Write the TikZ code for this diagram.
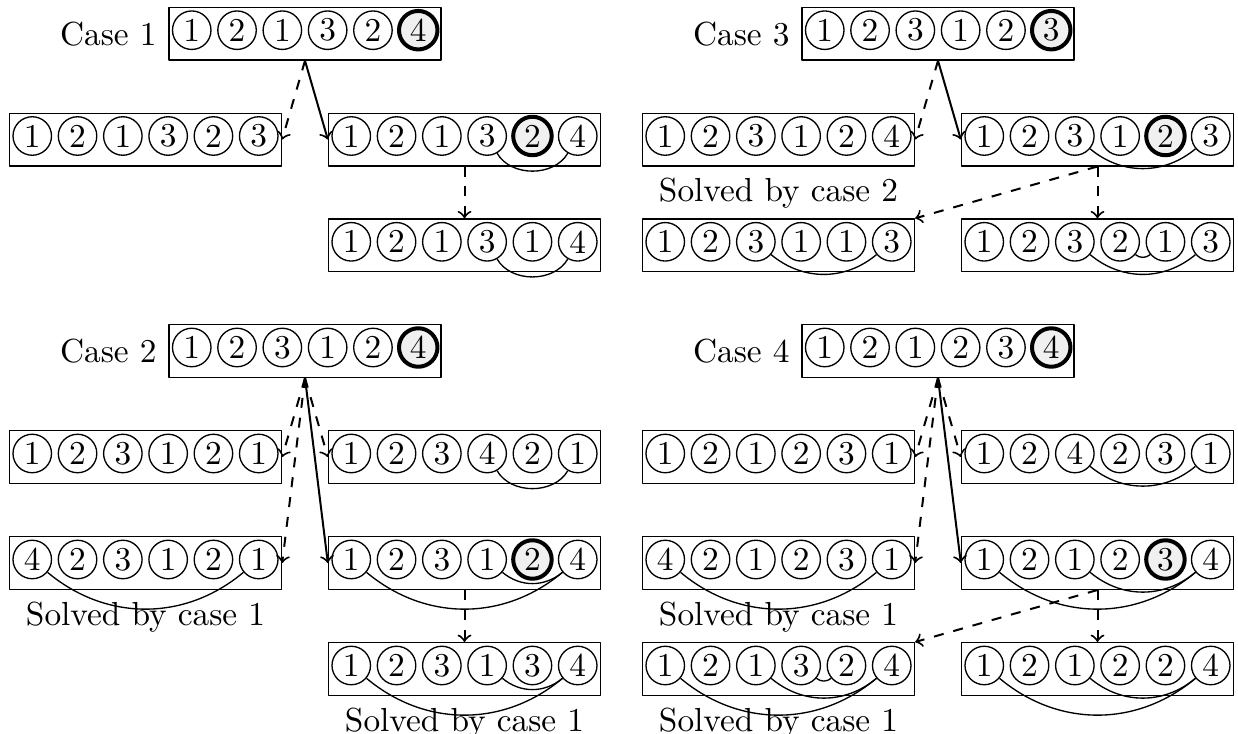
\documentclass[tikz,border=0pt]{standalone}
\tikzset{
  seqbox/.style={draw, minimum width=81.6pt, minimum height=15.8pt, inner sep=0pt},
  digit/.style={draw, circle, fill=white, minimum size=11.55pt, inner sep=0pt},
  hi/.style={very thick, fill=gray!12},
  link/.style={bend right=40},
  longlink/.style={bend right=60},
  tryarrow/.style={->, semithick, dashed},
  goarrow/.style={->, semithick},
}
% name, position, digits, highlighted circle (0 = none)
\newcommand{\permrow}[4]{%
  \begin{scope}[shift={(#2)}]
    \node[seqbox] (#1) at (0,0) {};
    \foreach \v [count=\i] in {#3} {
      \ifnum\i=#4
        \node[digit,hi] (#1-\i) at ({(\i-3.5)*45.3},3.5) {\v};
      \else
        \node[digit] (#1-\i) at ({(\i-3.5)*45.3},3.5) {\v};
      \fi
    }
  \end{scope}
}
\begin{document}
\begin{tikzpicture}[x=0.3pt, y=0.3pt, line join=round]
  \useasboundingbox (0,0) rectangle (1238,-734);
  \def\xl{145.5} \def\xm{305} \def\xr{464.5} \def\off{633}
  % Case 1
  \permrow{c1}{\xm,-33.7}{1,2,1,3,2,4}{6}
  \node[left] (lab1) at (c1.west) {Case 1};
  \permrow{c1l}{\xl,-139.5}{1,2,1,3,2,3}{0}
  \permrow{c1r}{\xr,-139.5}{1,2,1,3,2,4}{5}
  \permrow{c1rr}{\xr,-245.3}{1,2,1,3,1,4}{0}
  \draw[tryarrow] (c1.south) -- (c1l.east);
  \draw[goarrow] (c1.south) -- (c1r.west);
  \draw[tryarrow] (c1r.south) -- (c1rr.north);
  \draw (c1r-4) to[longlink] (c1r-6);
  \draw (c1rr-4) to[longlink] (c1rr-6);
  % Case 3
  \permrow{c3}{\xm+\off,-33.7}{1,2,3,1,2,3}{6}
  \node[left] (lab3) at (c3.west) {Case 3};
  \permrow{c3l}{\xl+\off,-139.5}{1,2,3,1,2,4}{0}
  \permrow{c3r}{\xr+\off,-139.5}{1,2,3,1,2,3}{5}
  \permrow{c3rl}{\xl+\off,-245.3}{1,2,3,1,1,3}{0}
  \permrow{c3rr}{\xr+\off,-245.3}{1,2,3,2,1,3}{0}
  \node[below] (sol3) at (c3l.south) {Solved by case 2};
  \draw[tryarrow] (c3.south) -- (c3l.east);
  \draw[goarrow] (c3.south) -- (c3r.west);
  \draw[tryarrow] (c3r.south) -- (c3rl.north east);
  \draw[tryarrow] (c3r.south) -- (c3rr.north);
  \draw (c3r-3) to[link] (c3r-6);
  \draw (c3rl-3) to[link] (c3rl-6);
  \draw (c3rr-3) to[link] (c3rr-6);
  \draw (c3rr-4) to[link] (c3rr-5);
  % Case 2
  \permrow{c2}{\xm,-351}{1,2,3,1,2,4}{6}
  \node[left] (lab2) at (c2.west) {Case 2};
  \permrow{c2a}{\xl,-457}{1,2,3,1,2,1}{0}
  \permrow{c2b}{\xr,-457}{1,2,3,4,2,1}{0}
  \permrow{c2c}{\xl,-563}{4,2,3,1,2,1}{0}
  \permrow{c2d}{\xr,-563}{1,2,3,1,2,4}{5}
  \permrow{c2e}{\xr,-669}{1,2,3,1,3,4}{0}
  \node[below] (sol2c) at (c2c.south) {Solved by case 1};
  \node[below] (sol2e) at (c2e.south) {Solved by case 1};
  \draw[tryarrow] (c2.south) -- (c2a.east);
  \draw[tryarrow] (c2.south) -- (c2b.west);
  \draw[tryarrow] (c2.south) -- (c2c.east);
  \draw[goarrow] (c2.south) -- (c2d.west);
  \draw[tryarrow] (c2d.south) -- (c2e.north);
  \draw (c2b-4) to[longlink] (c2b-6);
  \draw (c2c-1) to[link] (c2c-6);
  \draw (c2d-1) to[link] (c2d-6);
  \draw (c2d-4) to[link] (c2d-6);
  \draw (c2e-1) to[link] (c2e-6);
  \draw (c2e-4) to[link] (c2e-6);
  % Case 4
  \permrow{c4}{\xm+\off,-351}{1,2,1,2,3,4}{6}
  \node[left] (lab4) at (c4.west) {Case 4};
  \permrow{c4a}{\xl+\off,-457}{1,2,1,2,3,1}{0}
  \permrow{c4b}{\xr+\off,-457}{1,2,4,2,3,1}{0}
  \permrow{c4c}{\xl+\off,-563}{4,2,1,2,3,1}{0}
  \permrow{c4d}{\xr+\off,-563}{1,2,1,2,3,4}{5}
  \permrow{c4e}{\xl+\off,-669}{1,2,1,3,2,4}{0}
  \permrow{c4f}{\xr+\off,-669}{1,2,1,2,2,4}{0}
  \node[below] (sol4c) at (c4c.south) {Solved by case 1};
  \node[below] (sol4e) at (c4e.south) {Solved by case 1};
  \draw[tryarrow] (c4.south) -- (c4a.east);
  \draw[tryarrow] (c4.south) -- (c4b.west);
  \draw[tryarrow] (c4.south) -- (c4c.east);
  \draw[goarrow] (c4.south) -- (c4d.west);
  \draw[tryarrow] (c4d.south) -- (c4e.north east);
  \draw[tryarrow] (c4d.south) -- (c4f.north);
  \draw (c4b-3) to[link] (c4b-6);
  \draw (c4c-1) to[link] (c4c-6);
  \draw (c4d-1) to[link] (c4d-6);
  \draw (c4d-3) to[link] (c4d-6);
  \draw (c4e-1) to[link] (c4e-6);
  \draw (c4e-3) to[link] (c4e-6);
  \draw (c4e-4) to[link] (c4e-5);
  \draw (c4f-1) to[link] (c4f-6);
  \draw (c4f-3) to[link] (c4f-6);
\end{tikzpicture}
\end{document}
